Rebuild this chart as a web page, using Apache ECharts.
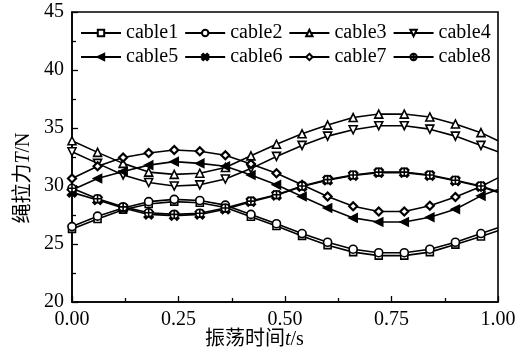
<!DOCTYPE html>
<html>
<head>
<meta charset="utf-8">
<script src="https://cdn.jsdelivr.net/npm/echarts@6/dist/echarts.min.js"></script>
<style>html,body{margin:0;padding:0;background:#fff}#c{width:523px;height:358px}</style>
</head>
<body>
<div id="c"></div>
<script>
const times = [0.00,0.06,0.12,0.18,0.24,0.30,0.36,0.42,0.48,0.54,0.60,0.66,0.72,0.78,0.84,0.90,0.96,1.00];
const cable1 = [26.3,27.15,27.95,28.45,28.65,28.55,28.15,27.35,26.55,25.7,24.9,24.3,24.0,24.0,24.3,24.95,25.65,26.15];
const cable2 = [26.5,27.4,28.1,28.65,28.85,28.75,28.35,27.55,26.75,25.9,25.15,24.55,24.25,24.25,24.55,25.15,25.9,26.4];
const cable3 = [33.9,32.9,31.95,31.2,31.0,31.1,31.6,32.6,33.6,34.5,35.25,35.9,36.2,36.2,35.95,35.35,34.6,33.9];
const cable4 = [32.95,31.95,30.95,30.3,30.0,30.1,30.6,31.5,32.55,33.5,34.3,34.85,35.2,35.2,34.9,34.3,33.5,32.95];
const cable5 = [29.65,30.65,31.25,31.8,32.1,31.95,31.7,30.95,30.1,29.1,28.1,27.25,26.9,26.9,27.3,28.0,29.15,29.7];
const cable6 = [29.45,28.8,28.1,27.55,27.45,27.55,28.0,28.65,29.2,29.95,30.5,30.9,31.15,31.15,30.9,30.45,29.95,29.45];
const cable7 = [30.65,31.7,32.45,32.85,33.1,33.0,32.65,31.9,31.1,30.1,29.1,28.25,27.8,27.8,28.3,29.05,29.95,30.7];
const cable8 = [29.8,28.9,28.2,27.7,27.55,27.65,28.1,28.7,29.25,30.0,30.55,30.95,31.2,31.2,30.95,30.5,30.0,29.5];
const seriesNames = ['cable1','cable2','cable3','cable4','cable5','cable6','cable7','cable8'];
const yTicks = [20,25,30,35,40,45];
const xTicks = [0.00,0.25,0.50,0.75,1.00];

const allData = [cable1,cable2,cable3,cable4,cable5,cable6,cable7,cable8];
const symbols = [
  {s:'rect', fill:'#fff', size:7},
  {s:'circle', fill:'#fff', size:8},
  {s:'triangle', fill:'#fff', size:8},
  {s:'path://M0,0 L10,0 L5,9 Z', fill:'#fff', size:8},
  {s:'path://M0,5 L9,0 L9,10 Z', fill:'#000', size:8},
  {s:'path://M0,2 L2,0 L5,3 L8,0 L10,2 L7,5 L10,8 L8,10 L5,7 L2,10 L0,8 L3,5 Z', fill:'#000', size:9},
  {s:'diamond', fill:'#fff', size:8},
  {s:'path://M5,0 A5,5 0 1,1 4.99,0 Z M5,0 L5,10 M0,5 L10,5', fill:'#fff', size:8}
];
const SERIF = '"Liberation Serif","Times New Roman","Noto Sans CJK SC",serif';

const series = allData.map((arr, i) => ({
  name: seriesNames[i],
  type: 'line',
  symbol: symbols[i].s,
  symbolSize: symbols[i].size,
  showAllSymbol: true,
  lineStyle: {color:'#000', width:1.6},
  itemStyle: {color: symbols[i].fill, borderColor:'#000', borderWidth: i===6 ? 2.2 : 1.6},
  emphasis: {disabled:true},
  animation: false,
  clip: true,
  data: arr.map((v, k) => k === arr.length - 1 && times[k] === 1.0
    ? {value:[times[k], v], symbol:'none'}
    : [times[k], v])
}));

const legendCommon = {
  left: 75, orient: 'horizontal', itemWidth: 40, itemHeight: 8, itemGap: 6,
  textStyle: {fontFamily: SERIF, fontSize: 20, color:'#000'},
  inactiveColor: '#000'
};

const chart = echarts.init(document.getElementById('c'), null, {renderer:'canvas'});
chart.setOption({
  animation: false,
  grid: {left:72, right:25, top:12, bottom:56, show:true, borderColor:'#000', borderWidth:1.6, backgroundColor:'transparent'},
  legend: [
    Object.assign({}, legendCommon, {top: 18, data: seriesNames.slice(0,4)}),
    Object.assign({}, legendCommon, {top: 42, data: seriesNames.slice(4,8)})
  ],
  xAxis: {
    type:'value', min: xTicks[0], max: xTicks[xTicks.length-1], interval: 0.25,
    axisLine: {show:true, lineStyle:{color:'#000', width:1.6}},
    axisTick: {show:true, inside:true, length:6, lineStyle:{color:'#000', width:1.3}},
    minorTick: {show:true, splitNumber:2, length:4, lineStyle:{color:'#000', width:1.3}},
    splitLine: {show:false},
    axisLabel: {color:'#000', fontFamily:SERIF, fontSize:20, margin:8, formatter: v => v.toFixed(2)}
  },
  yAxis: {
    type:'value', min: yTicks[0], max: yTicks[yTicks.length-1], interval: 5,
    axisLine: {show:true, lineStyle:{color:'#000', width:1.6}},
    axisTick: {show:true, inside:true, length:6, lineStyle:{color:'#000', width:1.3}},
    minorTick: {show:true, splitNumber:2, length:4, lineStyle:{color:'#000', width:1.3}},
    splitLine: {show:false},
    axisLabel: {color:'#000', fontFamily:SERIF, fontSize:20, margin:8, verticalAlign:'middle', padding:[4,0,0,0]}
  },
  graphic: [
    {
      type:'text', left: 205, top: 330,
      style: {
        text: '{a|振荡时间}{b|t}{a|/s}',
        rich: {
          a: {fontFamily:SERIF, fontSize:20, fill:'#000'},
          b: {fontFamily:SERIF, fontSize:20, fontStyle:'italic', fill:'#000'}
        }
      }
    },
    {
      type:'text', x: 24, y: 178, rotation: Math.PI/2,
      style: {
        text: '{a|绳拉力}{b|T}{a|/N}',
        align:'center', verticalAlign:'middle',
        rich: {
          a: {fontFamily:SERIF, fontSize:20, fill:'#000'},
          b: {fontFamily:SERIF, fontSize:20, fontStyle:'italic', fill:'#000'}
        }
      }
    }
  ],
  series: series
});
</script>
</body>
</html>
